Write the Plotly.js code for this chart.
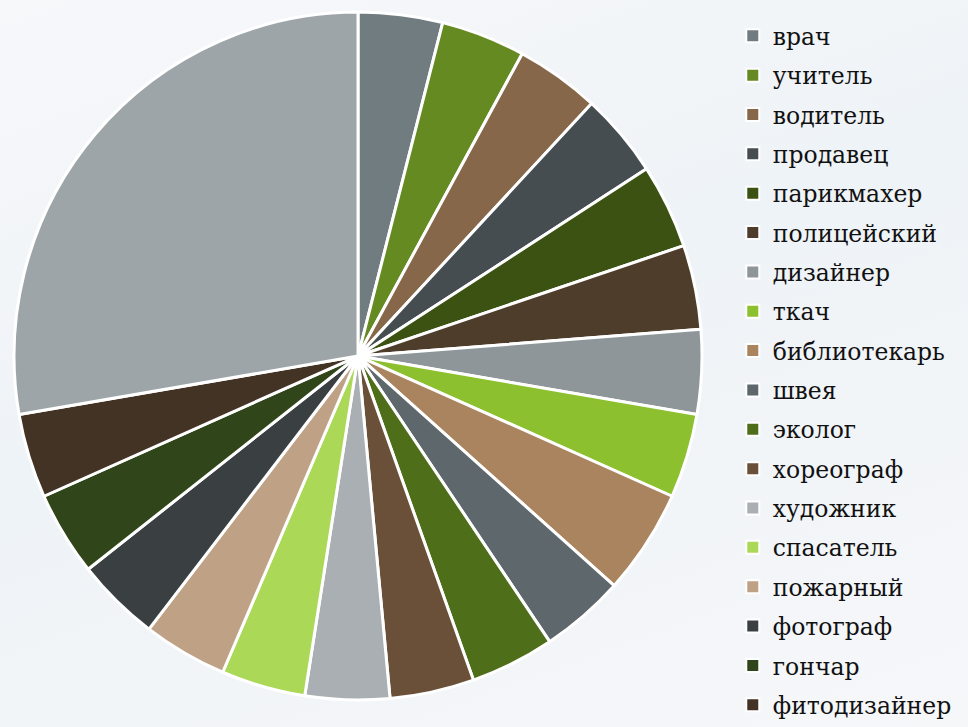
<!DOCTYPE html>
<html>
<head>
<meta charset="utf-8">
<script src="https://cdn.plot.ly/plotly-3.0.1.min.js"></script>
<style>
html,body{margin:0;padding:0;}
body{width:968px;height:727px;overflow:hidden;
background:linear-gradient(160deg,#f7f8fa 0%,#eef3f7 45%,#f6f7f9 100%);}
#chart{width:968px;height:727px;}
</style>
</head>
<body>
<div id="chart"></div>
<script>
// Professions (legend shows the first 18; the last large slice's label is cut off in the source)
var labels = ['врач','учитель','водитель','продавец','парикмахер','полицейский','дизайнер','ткач',
  'библиотекарь','швея','эколог','хореограф','художник','спасатель','пожарный','фотограф','гончар',
  'фитодизайнер','другое'];
var values = [4,4,4,4,4,4,4,4,5,4,4,4,4,4,4,4,4,4,28];
var colors = ['#717c81','#658a21','#86674a','#464d51','#3c5213','#4f3d2b','#8e969a','#8cc02e',
  '#a9845f','#5e676b','#4e6e1a','#6a5039','#a9afb2','#abd957','#bfa286','#3a3f42','#30461a',
  '#433325','#9ea5a8'];
var legendCount = 18;

var traces = [{
  type:'pie',
  labels:labels,
  values:values,
  sort:false,
  direction:'clockwise',
  rotation:0,
  textinfo:'none',
  hoverinfo:'label+value',
  showlegend:false,
  marker:{colors:colors, line:{color:'#ffffff', width:3}},
  domain:{x:[0.0145,0.7252], y:[0.0371,0.9835]}
}];
for (var i=0;i<legendCount;i++){
  traces.push({
    type:'scatter', mode:'markers', x:[null], y:[null],
    name:labels[i], hoverinfo:'skip', legendgroup:'g'+i,
    marker:{symbol:'square', size:13, color:colors[i], line:{color:'#ffffff', width:2}},
    xaxis:'x', yaxis:'y'
  });
}

var layout = {
  width:968, height:727,
  margin:{l:0,r:0,t:0,b:0},
  font:{family:'DejaVu Serif'},
  paper_bgcolor:'rgba(0,0,0,0)',
  plot_bgcolor:'rgba(0,0,0,0)',
  xaxis:{visible:false, domain:[0.99,1]},
  yaxis:{visible:false, domain:[0.99,1]},
  showlegend:true,
  legend:{
    x:0.757, xanchor:'left', y:0.9615, yanchor:'top',
    bgcolor:'rgba(0,0,0,0)',
    tracegroupgap:5.8,
    font:{family:'DejaVu Serif', size:23.5, color:'#111111'},
    itemclick:false, itemdoubleclick:false
  }
};
Plotly.newPlot('chart', traces, layout, {displayModeBar:false, staticPlot:true});
</script>
</body>
</html>
